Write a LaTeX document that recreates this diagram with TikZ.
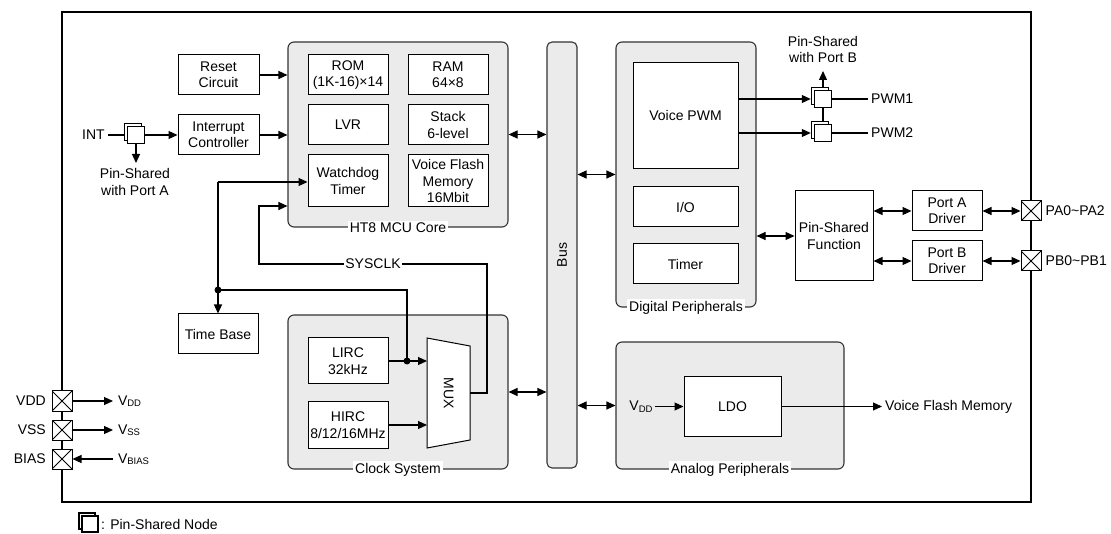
\documentclass[tikz,border=0pt]{standalone}
\usepackage{fontspec}
\setmainfont{Liberation Sans}
\usetikzlibrary{arrows.meta}
\newcommand{\fsz}{\fontsize{14}{16.5}\selectfont}
\newcommand{\subs}[1]{\raisebox{-1.5pt}{\fontsize{9.5}{10}\selectfont #1}}
\definecolor{grpgray}{HTML}{EBEBEB}
\definecolor{grpline}{HTML}{333333}
% pin-shared node: back square offset up-left, then front square node
\newcommand{\psnd}[3]{%
  \draw[line width=1.5pt, draw=black, fill=white, shift={(#2)}] (-#3/2-3,-#3/2-3) rectangle (#3/2-3,#3/2-3);
  \node[psnf, minimum size=#3] (#1) at (#2) {};}
\begin{document}
\begin{tikzpicture}[x=1pt,y=-1pt,
  every node/.style={font=\fsz, align=center},
  box/.style={draw=black, fill=white, line width=1pt, inner sep=0pt},
  grp/.style={draw=grpline, fill=grpgray, line width=1.1pt, rounded corners=6pt, inner sep=0pt},
  glabel/.style={fill=white, inner sep=2pt},
  lbl/.style={inner sep=2pt},
  conn/.style={line width=1.1pt, draw=black},
  arr/.style={conn, -{Triangle[length=9pt,width=8pt]}},
  dbl/.style={conn, {Triangle[length=9pt,width=8pt]}-{Triangle[length=9pt,width=8pt]}},
  pin/.style={draw, fill=white, line width=1pt, minimum size=20pt, inner sep=0pt,
    path picture={\draw[line width=1pt] (path picture bounding box.north west) -- (path picture bounding box.south east) (path picture bounding box.north east) -- (path picture bounding box.south west);}},
  psnf/.style={draw=black, fill=white, line width=1.5pt, inner sep=0pt},
  dot/.style={circle, fill=black, inner sep=0pt, minimum size=7pt}
]
\useasboundingbox (0,0) rectangle (1111,534);
% outer frame
\node[draw=black, line width=1.1pt, minimum width=969, minimum height=490, inner sep=0pt] (frame) at (546.5,257) {};

% left column
\node[box, minimum width=81, minimum height=40] (reset) at (218.5,75) {Reset\\Circuit};
\node[box, minimum width=81, minimum height=40] (intc) at (218.5,135) {Interrupt\\Controller};
\node[box, minimum width=80, minimum height=40] (tb) at (218,334) {Time Base};

% MCU core
\node[grp, minimum width=220, minimum height=185] (mcu) at (398,134.5) {};
\node[glabel] at (mcu.south) {HT8 MCU Core};
\node[box, minimum width=80, minimum height=40] (rom) at (348,75) {ROM\\(1K-16)×14};
\node[box, minimum width=80, minimum height=40] (ram) at (448,75) {RAM\\64×8};
\node[box, minimum width=80, minimum height=40] (lvr) at (348,125) {LVR};
\node[box, minimum width=80, minimum height=40] (stack) at (448,125) {Stack\\6-level};
\node[box, minimum width=80, minimum height=52] (wdt) at (348,181) {Watchdog\\Timer};
\node[box, minimum width=80, minimum height=52] (vfm) at (448,181) {Voice Flash\\Memory\\16Mbit};

% Clock system
\node[grp, minimum width=220, minimum height=154] (cs) at (398,392) {};
\node[glabel] at (cs.south) {Clock System};
\node[box, minimum width=80, minimum height=46] (lirc) at (348,361) {LIRC\\32kHz};
\node[box, minimum width=80, minimum height=46] (hirc) at (348,425) {HIRC\\8/12/16MHz};
\draw[box] (427,338) -- (470,346) -- (470,440) -- (427,448) -- cycle;
\node[rotate=-90] (mux) at (448.5,393) {MUX};
\coordinate (muxin1) at (427,361);
\coordinate (muxin2) at (427,425);
\coordinate (muxout) at (470,393);

% Bus
\node[grp, rounded corners=5pt, minimum width=30, minimum height=426] (bus) at (562,255) {};
\node[rotate=90] at (bus) {Bus};

% Digital peripherals
\node[grp, minimum width=140, minimum height=265] (dp) at (686,174.5) {};
\node[glabel] at (dp.south) {Digital Peripherals};
\node[box, minimum width=105, minimum height=106] (vpwm) at (685.5,116) {Voice PWM};
\node[box, minimum width=105, minimum height=40] (io) at (685.5,207) {I/O};
\node[box, minimum width=105, minimum height=40] (timer) at (685.5,264) {Timer};

% Analog peripherals
\node[grp, minimum width=228, minimum height=127] (ap) at (730,405.5) {};
\node[glabel] at (ap.south) {Analog Peripherals};
\node[box, minimum width=97, minimum height=59] (ldo) at (732.5,406.5) {LDO};
\node[lbl] (vddin) at (641,406.5) {V\subs{DD}};
\node[lbl, anchor=west, inner sep=3pt] (vfml) at (882,406.5) {Voice Flash Memory};

% Pin shared function and drivers
\node[box, minimum width=78, minimum height=90] (psf) at (834,236) {Pin-Shared\\Function};
\node[box, minimum width=70, minimum height=40] (pad) at (947,211) {Port A\\Driver};
\node[box, minimum width=70, minimum height=40] (pbd) at (947,261) {Port B\\Driver};
\node[pin] (ppa) at (1031,211) {};
\node[pin] (ppb) at (1031,261) {};
\node[lbl, anchor=west, inner sep=4pt] at (ppa.east) {PA0\textasciitilde PA2};
\node[lbl, anchor=west, inner sep=4pt] at (ppb.east) {PB0\textasciitilde PB1};

% PWM nodes
\draw[conn] (823,99) -- (823,133);
\psnd{n1}{823,99}{17}
\psnd{n2}{823,133}{17}
\node[lbl, anchor=west, inner sep=3pt] (pwm1) at (868,99) {PWM1};
\node[lbl, anchor=west, inner sep=3pt] (pwm2) at (868,133) {PWM2};
\node (psb) at (823,49.5) {Pin-Shared\\with Port B};
\coordinate (psbtip) at (823,71);

% INT
\node[lbl, anchor=east, inner sep=3pt] (int) at (108,135) {INT};
\psnd{n0}{136,135}{17}
\node (psa) at (135,182) {Pin-Shared\\with Port A};
\coordinate (psatip) at (136,163);

% power pins
\node[pin] (pvdd) at (62,401) {};
\node[pin] (pvss) at (62,430) {};
\node[pin] (pbias) at (62,459) {};
\node[lbl, anchor=east] at (48,401) {VDD};
\node[lbl, anchor=east] at (48,430) {VSS};
\node[lbl, anchor=east] at (48,459) {BIAS};
\node[lbl, anchor=west, inner sep=1pt, outer sep=4pt] (vddl) at (113,401) {V\subs{DD}};
\node[lbl, anchor=west, inner sep=1pt, outer sep=4pt] (vssl) at (113,430) {V\subs{SS}};
\node[lbl, anchor=west, inner sep=1pt, outer sep=4pt] (vbiasl) at (113,459) {V\subs{BIAS}};

% legend
\psnd{leg}{90,524}{16}
\node[lbl, anchor=west, inner sep=1pt] at (100,524) {: Pin-Shared Node};

% ---------- connectors ----------
\draw[conn] (int.east) -- ([xshift=-3pt]n0.west);
\draw[arr] (n0.east) -- (intc.west);
\draw[arr] (n0.south) -- (psatip);
\draw[arr] (reset.east) -- (reset.east -| mcu.west);
\draw[arr] (intc.east) -- (intc.east -| mcu.west);

\coordinate (wd0) at (218,182);
\draw[arr] (wd0) -- (wdt.west |- wd0);
\draw[arr] (wd0) -- (tb.north);
\node[dot] (j1) at (218,290) {};
\node[dot] (j2) at (407,361) {};
\draw[conn] (j1.center) -- (j1.center -| j2.center) -- (j2.center);

\draw[arr] (lirc.east) -- (muxin1);
\draw[arr] (hirc.east) -- (muxin2);
\coordinate (c1) at (487,393);
\coordinate (c2) at (487,264);
\coordinate (c3) at (259,264);
\coordinate (c4) at (259,206);
\draw[arr] (muxout) -- (c1) -- (c2) -- (c3) -- (c4) -- (c4 -| mcu.west);
\node[fill=white, inner sep=1.5pt] (sysclk) at (373,264) {SYSCLK};

\draw[dbl] (mcu.east) -- (mcu.east -| bus.west);
\draw[dbl] (cs.east) -- (cs.east -| bus.west);
\draw[dbl] (dp.west -| bus.east) -- (dp.west);
\draw[dbl] (ap.west -| bus.east) -- (ap.west);

\draw[arr] (vddin.east) -- (ldo.west);
\draw[arr] (ldo.east) -- (vfml.west);

\draw[arr] (vpwm.east |- n1) -- ([xshift=-3pt]n1.west);
\draw[arr] (vpwm.east |- n2) -- ([xshift=-3pt]n2.west);
\draw[arr] ([yshift=3pt]n1.north) -- (psbtip);
\draw[conn] (n1.east) -- (pwm1.west);
\draw[conn] (n2.east) -- (pwm2.west);

\draw[dbl] (dp.east |- psf.west) -- (psf.west);
\draw[dbl] (psf.east |- pad.west) -- (pad.west);
\draw[dbl] (psf.east |- pbd.west) -- (pbd.west);
\draw[dbl] (pad.east) -- (ppa.west);
\draw[dbl] (pbd.east) -- (ppb.west);

\draw[arr] (pvdd.east) -- (vddl.west);
\draw[arr] (pvss.east) -- (vssl.west);
\draw[arr] (vbiasl.west) -- (pbias.east);
\end{tikzpicture}
\end{document}
